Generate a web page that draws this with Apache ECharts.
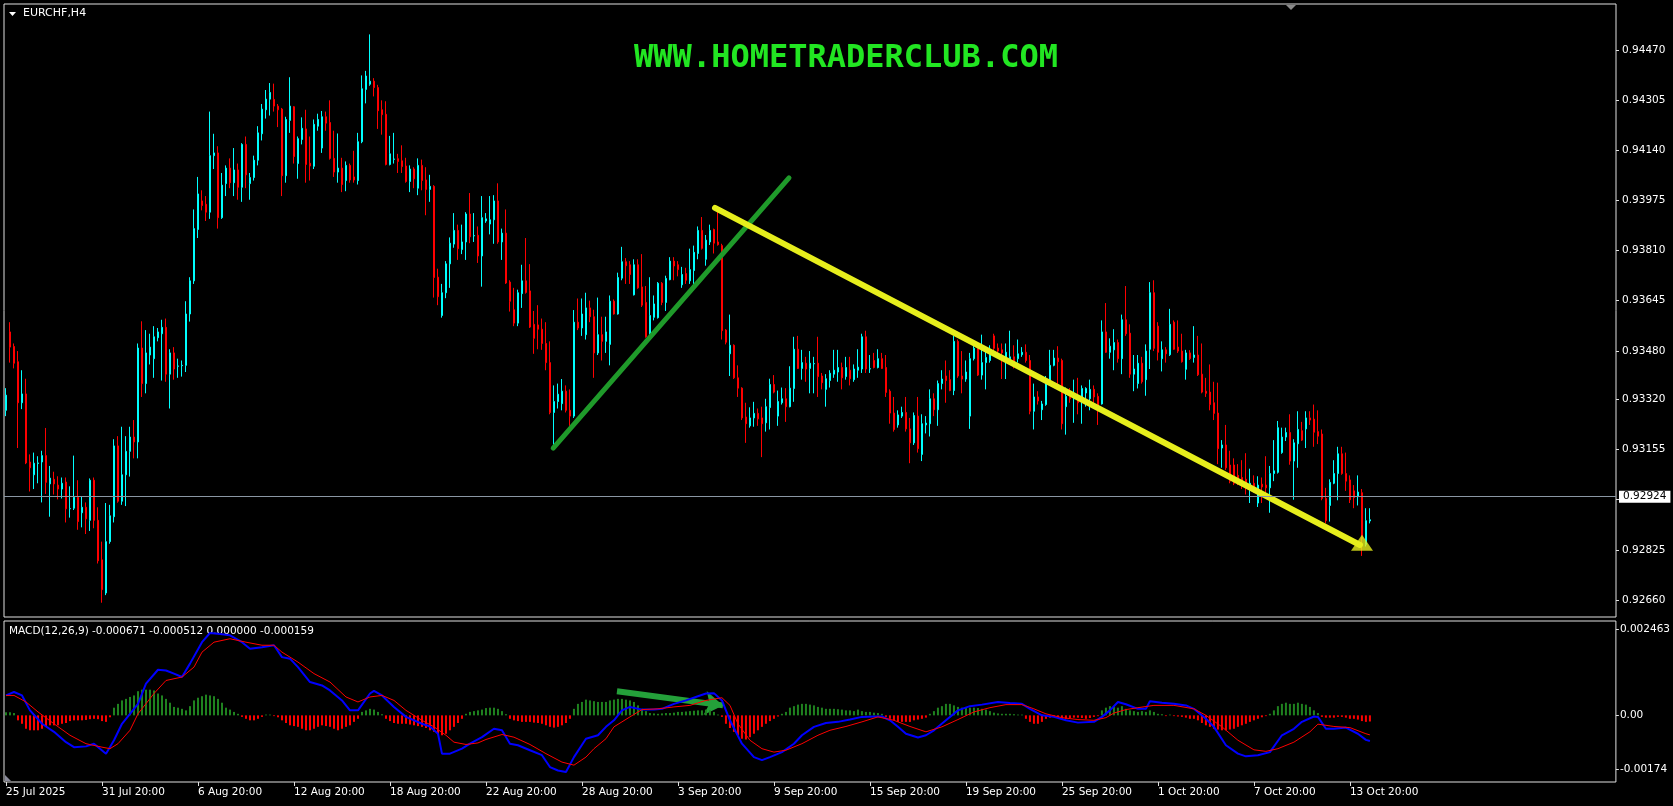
<!DOCTYPE html>
<html><head><meta charset="utf-8">
<script src="https://cdn.jsdelivr.net/npm/echarts@6/dist/echarts.min.js"></script>
<style>html,body{margin:0;padding:0;background:#000;}#c{width:1673px;height:806px;}</style>
</head><body><div id="c"></div>
<script>
const symbolName = 'EURCHF,H4';
const macdTitle = 'MACD(12,26,9) -0.000671 -0.000512 0.000000 -0.000159';
const watermark = 'WWW.HOMETRADERCLUB.COM';
const timeTickLabels = ['25 Jul 2025','31 Jul 20:00','6 Aug 20:00','12 Aug 20:00','18 Aug 20:00','22 Aug 20:00','28 Aug 20:00','3 Sep 20:00','9 Sep 20:00','15 Sep 20:00','19 Sep 20:00','25 Sep 20:00','1 Oct 20:00','7 Oct 20:00','13 Oct 20:00'];
const priceTicks = [0.94470,0.94305,0.94140,0.93975,0.93810,0.93645,0.93480,0.93320,0.93155,0.92990,0.92825,0.92660];
const macdTickLabels = ['0.002463','0.00','-0.00174'];
const currentPrice = 0.92924;

const opens = [0.93284,0.93542,0.93494,0.93444,0.93309,0.93338,0.93114,0.93072,0.93109,0.93114,
0.93135,0.93042,0.93057,0.93038,0.93025,0.93048,0.92960,0.92962,0.92998,0.92947,
0.92965,0.92922,0.93054,0.92922,0.92792,0.92683,0.92852,0.92934,0.93167,0.92985,
0.93072,0.93149,0.93196,0.93180,0.93489,0.93372,0.93466,0.93454,0.93523,0.93536,
0.93557,0.93403,0.93473,0.93429,0.93431,0.93432,0.93601,0.93710,0.93879,0.93973,
0.93962,0.93936,0.94122,0.94131,0.93918,0.94030,0.94081,0.94033,0.94075,0.94018,
0.94159,0.94030,0.94050,0.94107,0.94194,0.94273,0.94308,0.94307,0.94285,0.94275,
0.94056,0.94238,0.94283,0.94096,0.94175,0.94210,0.94097,0.94087,0.94219,0.94147,
0.94250,0.94231,0.94113,0.94068,0.94081,0.94040,0.94090,0.94052,0.94040,0.94168,
0.94340,0.94357,0.94367,0.94346,0.94273,0.94258,0.94093,0.94110,0.94112,0.94105,
0.94088,0.94037,0.94078,0.94015,0.94090,0.94042,0.94011,0.94021,0.93722,0.93596,
0.93671,0.93766,0.93831,0.93876,0.93813,0.93838,0.93930,0.93858,0.93860,0.93792,
0.93907,0.93897,0.93911,0.93973,0.93838,0.93867,0.93706,0.93615,0.93571,0.93668,
0.93710,0.93677,0.93567,0.93565,0.93551,0.93504,0.93441,0.93277,0.93313,0.93306,
0.93347,0.93284,0.93265,0.93574,0.93555,0.93533,0.93621,0.93592,0.93473,0.93533,
0.93511,0.93501,0.93643,0.93601,0.93719,0.93773,0.93763,0.93664,0.93763,0.93690,
0.93639,0.93526,0.93590,0.93589,0.93702,0.93639,0.93714,0.93775,0.93763,0.93697,
0.93734,0.93710,0.93744,0.93800,0.93876,0.93781,0.93838,0.93879,0.93838,0.93826,
0.93548,0.93470,0.93498,0.93391,0.93357,0.93262,0.93233,0.93259,0.93274,0.93259,
0.93243,0.93293,0.93369,0.93265,0.93309,0.93322,0.93296,0.93356,0.93485,0.93422,
0.93439,0.93422,0.93437,0.93439,0.93397,0.93353,0.93382,0.93403,0.93410,0.93425,
0.93395,0.93416,0.93385,0.93416,0.93420,0.93526,0.93420,0.93448,0.93425,0.93454,
0.93425,0.93347,0.93275,0.93236,0.93265,0.93277,0.93223,0.93177,0.93265,0.93139,
0.93236,0.93240,0.93322,0.93286,0.93372,0.93397,0.93385,0.93349,0.93511,0.93397,
0.93387,0.93265,0.93454,0.93488,0.93400,0.93441,0.93448,0.93529,0.93489,0.93483,
0.93458,0.93448,0.93460,0.93454,0.93467,0.93475,0.93448,0.93281,0.93328,0.93286,
0.93303,0.93378,0.93432,0.93456,0.93448,0.93296,0.93330,0.93322,0.93332,0.93322,
0.93341,0.93322,0.93353,0.93330,0.93305,0.93542,0.93475,0.93483,0.93507,0.93454,
0.93582,0.93538,0.93403,0.93372,0.93439,0.93385,0.93485,0.93671,0.93561,0.93454,
0.93483,0.93467,0.93574,0.93492,0.93479,0.93419,0.93473,0.93458,0.93466,0.93403,
0.93347,0.93344,0.93309,0.93275,0.93160,0.93170,0.93104,0.93104,0.93070,0.93063,
0.93057,0.93025,0.93044,0.92979,0.93041,0.93038,0.93029,0.93076,0.93080,0.93145,
0.93196,0.93211,0.93117,0.93174,0.93217,0.93223,0.93259,0.93255,0.93214,0.93206,
0.92994,0.92971,0.93044,0.93076,0.93141,0.93076,0.93055,0.93019,0.93000,0.93013,
0.92843,0.92920];

const highs = [0.93357,0.93574,0.93504,0.93479,0.93416,0.93388,0.93139,0.93145,0.93133,0.93151,
0.93226,0.93101,0.93082,0.93067,0.93063,0.93063,0.93034,0.93135,0.93054,0.93000,
0.92981,0.93060,0.93063,0.92965,0.92852,0.92979,0.92973,0.93189,0.93199,0.93230,
0.93199,0.93230,0.93252,0.93504,0.93577,0.93548,0.93536,0.93561,0.93555,0.93582,
0.93586,0.93485,0.93492,0.93454,0.93448,0.93643,0.93722,0.93945,0.94052,0.94008,
0.93989,0.94267,0.94194,0.94153,0.94065,0.94090,0.94113,0.94147,0.94096,0.94163,
0.94185,0.94065,0.94122,0.94219,0.94292,0.94338,0.94361,0.94359,0.94292,0.94279,
0.94250,0.94380,0.94285,0.94185,0.94248,0.94273,0.94185,0.94241,0.94260,0.94269,
0.94267,0.94304,0.94204,0.94195,0.94115,0.94103,0.94096,0.94138,0.94197,0.94386,
0.94401,0.94521,0.94377,0.94355,0.94304,0.94301,0.94187,0.94197,0.94128,0.94156,
0.94115,0.94090,0.94084,0.94113,0.94109,0.94084,0.94059,0.94025,0.93750,0.93700,
0.93775,0.93853,0.93933,0.93895,0.93895,0.93936,0.93999,0.93933,0.93889,0.93989,
0.93933,0.93989,0.93992,0.94031,0.93882,0.93945,0.93712,0.93687,0.93681,0.93763,
0.93851,0.93765,0.93611,0.93630,0.93586,0.93574,0.93511,0.93366,0.93372,0.93387,
0.93366,0.93353,0.93614,0.93652,0.93652,0.93671,0.93645,0.93615,0.93655,0.93592,
0.93592,0.93662,0.93649,0.93737,0.93822,0.93785,0.93775,0.93781,0.93781,0.93798,
0.93693,0.93722,0.93662,0.93706,0.93706,0.93727,0.93788,0.93788,0.93775,0.93756,
0.93753,0.93816,0.93826,0.93889,0.93920,0.93861,0.93895,0.93882,0.93939,0.93832,
0.93551,0.93599,0.93501,0.93432,0.93360,0.93309,0.93294,0.93312,0.93290,0.93296,
0.93322,0.93388,0.93400,0.93349,0.93359,0.93357,0.93429,0.93526,0.93529,0.93483,
0.93460,0.93479,0.93460,0.93526,0.93407,0.93403,0.93416,0.93483,0.93483,0.93441,
0.93460,0.93460,0.93435,0.93485,0.93536,0.93546,0.93466,0.93473,0.93485,0.93473,
0.93466,0.93353,0.93328,0.93284,0.93296,0.93328,0.93259,0.93277,0.93328,0.93271,
0.93265,0.93353,0.93340,0.93382,0.93416,0.93448,0.93416,0.93529,0.93517,0.93479,
0.93448,0.93473,0.93501,0.93492,0.93533,0.93492,0.93498,0.93536,0.93504,0.93504,
0.93504,0.93546,0.93498,0.93517,0.93492,0.93501,0.93466,0.93372,0.93347,0.93315,
0.93397,0.93483,0.93483,0.93495,0.93454,0.93359,0.93357,0.93385,0.93391,0.93366,
0.93360,0.93385,0.93366,0.93340,0.93580,0.93637,0.93521,0.93551,0.93517,0.93599,
0.93693,0.93567,0.93466,0.93466,0.93460,0.93501,0.93706,0.93712,0.93574,0.93511,
0.93492,0.93618,0.93580,0.93580,0.93536,0.93483,0.93482,0.93561,0.93529,0.93504,
0.93391,0.93435,0.93378,0.93375,0.93186,0.93236,0.93151,0.93126,0.93107,0.93120,
0.93143,0.93092,0.93070,0.93067,0.93063,0.93133,0.93101,0.93186,0.93249,0.93227,
0.93227,0.93271,0.93189,0.93281,0.93246,0.93281,0.93281,0.93303,0.93284,0.93221,
0.93029,0.93057,0.93120,0.93164,0.93164,0.93145,0.93070,0.93038,0.93070,0.93025,
0.92962,0.92962];

const lows = [0.93265,0.93441,0.93422,0.93160,0.93288,0.93107,0.93017,0.93025,0.93044,0.92981,
0.93009,0.92934,0.93007,0.92991,0.92994,0.92915,0.92931,0.92956,0.92891,0.92899,
0.92877,0.92887,0.92896,0.92780,0.92651,0.92676,0.92845,0.92915,0.92980,0.92973,
0.92969,0.93066,0.93126,0.93126,0.93328,0.93340,0.93435,0.93391,0.93511,0.93382,
0.93378,0.93290,0.93385,0.93391,0.93395,0.93410,0.93576,0.93700,0.93851,0.93942,
0.93907,0.93914,0.94078,0.93882,0.93914,0.93989,0.94015,0.93989,0.93977,0.93970,
0.94015,0.93977,0.94040,0.94090,0.94172,0.94244,0.94254,0.94267,0.94216,0.93989,
0.94033,0.94197,0.94096,0.94046,0.94159,0.94033,0.94040,0.94078,0.94204,0.94131,
0.94204,0.94109,0.94052,0.94033,0.94002,0.94005,0.94033,0.94033,0.94027,0.94163,
0.94294,0.94352,0.94317,0.94210,0.94191,0.94090,0.94090,0.94096,0.94065,0.94065,
0.94033,0.94002,0.94015,0.93992,0.94008,0.93926,0.93970,0.93655,0.93630,0.93589,
0.93653,0.93687,0.93819,0.93779,0.93798,0.93779,0.93834,0.93838,0.93769,0.93691,
0.93901,0.93863,0.93832,0.93832,0.93779,0.93700,0.93609,0.93561,0.93561,0.93621,
0.93668,0.93555,0.93470,0.93485,0.93483,0.93416,0.93271,0.93164,0.93290,0.93284,
0.93277,0.93233,0.93259,0.93548,0.93529,0.93517,0.93574,0.93391,0.93466,0.93448,
0.93473,0.93432,0.93599,0.93599,0.93712,0.93700,0.93700,0.93662,0.93684,0.93624,
0.93523,0.93523,0.93580,0.93586,0.93630,0.93611,0.93712,0.93712,0.93725,0.93687,
0.93700,0.93700,0.93693,0.93781,0.93813,0.93760,0.93828,0.93800,0.93826,0.93517,
0.93501,0.93397,0.93387,0.93328,0.93252,0.93177,0.93227,0.93230,0.93233,0.93130,
0.93214,0.93221,0.93340,0.93233,0.93303,0.93246,0.93294,0.93312,0.93420,0.93385,
0.93378,0.93340,0.93340,0.93328,0.93353,0.93296,0.93359,0.93391,0.93378,0.93353,
0.93385,0.93366,0.93378,0.93391,0.93407,0.93407,0.93407,0.93422,0.93422,0.93420,
0.93328,0.93240,0.93214,0.93227,0.93259,0.93214,0.93110,0.93170,0.93145,0.93117,
0.93208,0.93198,0.93265,0.93233,0.93353,0.93309,0.93347,0.93334,0.93391,0.93340,
0.93378,0.93223,0.93448,0.93397,0.93385,0.93353,0.93441,0.93479,0.93473,0.93387,
0.93387,0.93441,0.93422,0.93441,0.93460,0.93441,0.93271,0.93221,0.93303,0.93252,
0.93299,0.93372,0.93429,0.93353,0.93221,0.93204,0.93309,0.93243,0.93271,0.93240,
0.93296,0.93284,0.93309,0.93236,0.93303,0.93473,0.93454,0.93416,0.93441,0.93403,
0.93529,0.93391,0.93347,0.93356,0.93372,0.93332,0.93420,0.93479,0.93448,0.93412,
0.93441,0.93463,0.93483,0.93473,0.93441,0.93385,0.93450,0.93441,0.93397,0.93340,
0.93328,0.93284,0.93252,0.93107,0.93095,0.93088,0.93044,0.93038,0.93038,0.93025,
0.93007,0.92979,0.93013,0.92966,0.92979,0.93000,0.92947,0.93051,0.93076,0.93141,
0.93183,0.93105,0.92990,0.93095,0.93183,0.93160,0.93236,0.93164,0.93173,0.92988,
0.92912,0.92918,0.93041,0.92988,0.93072,0.93019,0.92979,0.92962,0.92971,0.92805,
0.92836,0.92912];

const closes = [0.93334,0.93492,0.93439,0.93309,0.93338,0.93111,0.93095,0.93110,0.93111,0.93135,
0.93047,0.93061,0.93042,0.93025,0.93044,0.92960,0.92961,0.92998,0.92918,0.92965,
0.92927,0.93054,0.92922,0.92789,0.92694,0.92852,0.92937,0.93167,0.92985,0.93072,
0.93149,0.93196,0.93180,0.93489,0.93372,0.93473,0.93492,0.93526,0.93542,0.93557,
0.93403,0.93473,0.93420,0.93430,0.93432,0.93601,0.93710,0.93882,0.93996,0.93958,
0.93936,0.94122,0.94131,0.93918,0.94025,0.94081,0.94033,0.94075,0.94018,0.94159,
0.94059,0.94050,0.94107,0.94197,0.94275,0.94308,0.94330,0.94285,0.94273,0.94056,
0.94241,0.94285,0.94119,0.94178,0.94212,0.94093,0.94088,0.94225,0.94241,0.94250,
0.94229,0.94113,0.94068,0.94081,0.94027,0.94090,0.94042,0.94042,0.94168,0.94342,
0.94384,0.94367,0.94346,0.94270,0.94257,0.94093,0.94128,0.94111,0.94103,0.94086,
0.94037,0.94078,0.94046,0.94090,0.94040,0.94011,0.94021,0.93721,0.93658,0.93671,
0.93766,0.93834,0.93876,0.93816,0.93838,0.93930,0.93855,0.93859,0.93792,0.93918,
0.93914,0.93911,0.93973,0.93838,0.93867,0.93703,0.93643,0.93571,0.93671,0.93710,
0.93672,0.93558,0.93521,0.93551,0.93504,0.93441,0.93277,0.93313,0.93337,0.93347,
0.93284,0.93265,0.93574,0.93555,0.93601,0.93621,0.93592,0.93473,0.93533,0.93511,
0.93542,0.93643,0.93601,0.93721,0.93773,0.93760,0.93731,0.93763,0.93687,0.93630,
0.93526,0.93596,0.93634,0.93702,0.93639,0.93718,0.93775,0.93759,0.93747,0.93731,
0.93712,0.93747,0.93804,0.93876,0.93817,0.93844,0.93876,0.93834,0.93829,0.93546,
0.93508,0.93498,0.93391,0.93357,0.93259,0.93240,0.93259,0.93274,0.93256,0.93240,
0.93296,0.93369,0.93344,0.93313,0.93322,0.93296,0.93357,0.93485,0.93422,0.93441,
0.93420,0.93439,0.93438,0.93395,0.93375,0.93388,0.93406,0.93416,0.93425,0.93391,
0.93425,0.93388,0.93420,0.93426,0.93526,0.93420,0.93421,0.93425,0.93454,0.93422,
0.93343,0.93275,0.93221,0.93269,0.93277,0.93223,0.93177,0.93267,0.93158,0.93240,
0.93242,0.93322,0.93286,0.93372,0.93387,0.93382,0.93349,0.93511,0.93397,0.93387,
0.93410,0.93454,0.93488,0.93400,0.93441,0.93458,0.93473,0.93488,0.93479,0.93473,
0.93475,0.93460,0.93441,0.93470,0.93475,0.93448,0.93281,0.93328,0.93315,0.93305,
0.93378,0.93432,0.93456,0.93444,0.93240,0.93330,0.93322,0.93334,0.93309,0.93356,
0.93356,0.93353,0.93328,0.93294,0.93542,0.93475,0.93495,0.93507,0.93454,0.93582,
0.93536,0.93403,0.93420,0.93439,0.93378,0.93479,0.93671,0.93488,0.93475,0.93483,
0.93470,0.93567,0.93485,0.93479,0.93444,0.93473,0.93454,0.93466,0.93401,0.93344,
0.93340,0.93303,0.93274,0.93158,0.93170,0.93095,0.93051,0.93044,0.93057,0.93044,
0.93038,0.93044,0.93032,0.93038,0.93032,0.93029,0.93076,0.93085,0.93227,0.93196,
0.93211,0.93117,0.93177,0.93221,0.93186,0.93259,0.93252,0.93212,0.93199,0.92994,
0.92921,0.93047,0.93076,0.93141,0.93076,0.93051,0.92990,0.92997,0.93015,0.92862,
0.92921,0.92924];

const macdHist = [0.00008,0.00008,0.00006,-0.00013,-0.00022,-0.00035,-0.00039,-0.00039,-0.00039,-0.00035,
-0.00030,-0.00026,-0.00026,-0.00026,-0.00022,-0.00020,-0.00015,-0.00013,-0.00013,-0.00013,
-0.00012,-0.00010,-0.00009,-0.00010,-0.00015,-0.00017,-0.00005,0.00020,0.00030,0.00039,
0.00043,0.00048,0.00052,0.00063,0.00067,0.00067,0.00067,0.00065,0.00057,0.00052,
0.00043,0.00033,0.00022,0.00020,0.00017,0.00013,0.00024,0.00039,0.00046,0.00050,
0.00054,0.00052,0.00050,0.00043,0.00033,0.00020,0.00015,0.00009,0.00004,-0.00004,
-0.00009,-0.00013,-0.00013,-0.00009,-0.00004,0.00002,0.00002,-0.00002,-0.00005,-0.00013,
-0.00020,-0.00026,-0.00028,-0.00030,-0.00035,-0.00039,-0.00039,-0.00035,-0.00030,-0.00026,
-0.00028,-0.00030,-0.00035,-0.00039,-0.00035,-0.00030,-0.00026,-0.00017,-0.00009,0.00009,
0.00013,0.00017,0.00015,0.00009,0.00003,-0.00009,-0.00015,-0.00020,-0.00022,-0.00022,
-0.00022,-0.00024,-0.00026,-0.00028,-0.00030,-0.00033,-0.00039,-0.00043,-0.00050,-0.00052,
-0.00048,-0.00039,-0.00030,-0.00020,-0.00009,0.00004,0.00009,0.00011,0.00013,0.00015,
0.00019,0.00020,0.00020,0.00017,0.00011,0.00003,-0.00009,-0.00013,-0.00015,-0.00017,
-0.00017,-0.00017,-0.00019,-0.00020,-0.00022,-0.00026,-0.00030,-0.00032,-0.00030,-0.00026,
-0.00020,-0.00009,0.00017,0.00030,0.00035,0.00041,0.00039,0.00037,0.00035,0.00035,
0.00035,0.00039,0.00041,0.00043,0.00043,0.00041,0.00039,0.00035,0.00026,0.00017,
0.00011,0.00006,0.00005,0.00004,0.00005,0.00006,0.00006,0.00007,0.00009,0.00009,
0.00010,0.00011,0.00012,0.00013,0.00013,0.00015,0.00013,0.00009,0.00002,-0.00004,
-0.00022,-0.00033,-0.00043,-0.00052,-0.00061,-0.00063,-0.00057,-0.00048,-0.00039,-0.00030,
-0.00022,-0.00015,-0.00009,-0.00003,0.00004,0.00009,0.00020,0.00024,0.00028,0.00030,
0.00030,0.00028,0.00026,0.00022,0.00020,0.00017,0.00017,0.00017,0.00016,0.00015,
0.00013,0.00013,0.00011,0.00015,0.00011,0.00009,0.00009,0.00007,0.00006,0.00004,
-0.00004,-0.00009,-0.00013,-0.00017,-0.00017,-0.00017,-0.00017,-0.00013,-0.00011,-0.00009,
-0.00006,0.00004,0.00011,0.00020,0.00024,0.00030,0.00030,0.00026,0.00022,0.00020,
0.00020,0.00020,0.00020,0.00019,0.00017,0.00015,0.00011,0.00007,0.00005,0.00004,
0.00004,0.00004,0.00003,0.00002,0.00002,-0.00009,-0.00017,-0.00022,-0.00022,-0.00017,
-0.00009,-0.00006,-0.00004,-0.00006,-0.00009,-0.00009,-0.00007,-0.00006,-0.00006,-0.00007,
-0.00009,-0.00007,-0.00004,-0.00002,0.00013,0.00020,0.00024,0.00022,0.00020,0.00024,
0.00017,0.00013,0.00011,0.00009,0.00011,0.00009,0.00013,0.00009,0.00004,0.00003,
-0.00002,0.00002,-0.00002,-0.00003,-0.00004,-0.00006,-0.00009,-0.00009,-0.00013,-0.00020,
-0.00026,-0.00030,-0.00035,-0.00037,-0.00039,-0.00039,-0.00037,-0.00035,-0.00030,-0.00026,
-0.00022,-0.00017,-0.00013,-0.00009,-0.00005,-0.00002,0.00004,0.00013,0.00024,0.00030,
0.00033,0.00030,0.00030,0.00033,0.00030,0.00028,0.00022,0.00013,0.00006,-0.00004,
-0.00006,-0.00006,-0.00006,-0.00004,-0.00004,-0.00006,-0.00009,-0.00009,-0.00011,-0.00015,
-0.00017,-0.00016];

// MACD main line (blue), read as [bar index, value]
const macdMain = [[0,0.00052],[2,0.00061],[4,0.00052],[6,0.00013],[9,-0.00022],[12,-0.00043],[15,-0.00070],[17,-0.00083],[20,-0.00081],[22,-0.00074],[25,-0.00100],[27,-0.00065],[29,-0.00022],[33,0.00030],[35,0.00083],[38,0.00119],[40,0.00117],[42,0.00109],[44,0.00100],[46,0.00135],[49,0.00191],[51,0.00215],[53,0.00213],[56,0.00209],[59,0.00191],[61,0.00174],[64,0.00178],[67,0.00183],[69,0.00152],[71,0.00148],[73,0.00126],[76,0.00087],[79,0.00078],[81,0.00065],[84,0.00039],[86,0.00013],[88,0.00013],[91,0.00057],[92,0.00064],[94,0.00052],[97,0.00022],[100,-0.00004],[104,-0.00022],[106,-0.00029],[108,-0.00048],[109,-0.00100],[111,-0.00100],[114,-0.00087],[116,-0.00074],[119,-0.00057],[122,-0.00035],[124,-0.00039],[126,-0.00074],[128,-0.00078],[131,-0.00091],[134,-0.00104],[136,-0.00135],[138,-0.00144],[140,-0.00148],[142,-0.00109],[145,-0.00061],[148,-0.00052],[150,-0.00030],[152,-0.00013],[154,0.00013],[156,0.00022],[159,0.00015],[162,0.00015],[164,0.00017],[167,0.00030],[170,0.00039],[173,0.00050],[175,0.00057],[177,0.00058],[179,0.00039],[181,-0.00013],[184,-0.00074],[187,-0.00109],[189,-0.00117],[191,-0.00109],[194,-0.00096],[197,-0.00074],[199,-0.00052],[202,-0.00030],[205,-0.00020],[208,-0.00017],[211,-0.00011],[214,-0.00004],[217,-0.00003],[219,-0.00003],[221,-0.00013],[223,-0.00030],[225,-0.00048],[228,-0.00058],[230,-0.00052],[232,-0.00039],[235,-0.00013],[238,0.00013],[241,0.00024],[244,0.00028],[248,0.00035],[251,0.00032],[254,0.00030],[256,0.00017],[259,0.00000],[262,-0.00004],[265,-0.00013],[268,-0.00019],[272,-0.00017],[274,-0.00004],[276,0.00013],[278,0.00035],[280,0.00029],[283,0.00017],[285,0.00017],[286,0.00037],[289,0.00033],[292,0.00030],[295,0.00026],[297,0.00017],[300,-0.00009],[302,-0.00030],[305,-0.00078],[308,-0.00100],[310,-0.00107],[313,-0.00104],[316,-0.00096],[319,-0.00052],[322,-0.00035],[324,-0.00017],[327,-0.00003],[328,-0.00004],[330,-0.00035],[332,-0.00035],[335,-0.00032],[338,-0.00048],[340,-0.00064],[341,-0.00067]];

// MACD signal line (red)
const macdSignal = [[0,0.00052],[2,0.00052],[5,0.00035],[8,0.00009],[12,-0.00022],[16,-0.00052],[20,-0.00074],[24,-0.00083],[26,-0.00087],[28,-0.00074],[31,-0.00039],[33,0.00004],[37,0.00057],[40,0.00091],[44,0.00100],[47,0.00126],[49,0.00165],[52,0.00191],[56,0.00200],[60,0.00191],[64,0.00183],[67,0.00183],[69,0.00165],[73,0.00139],[77,0.00109],[81,0.00087],[85,0.00048],[88,0.00035],[91,0.00048],[94,0.00052],[97,0.00039],[100,0.00013],[104,-0.00013],[107,-0.00030],[110,-0.00052],[112,-0.00070],[115,-0.00076],[118,-0.00072],[120,-0.00063],[124,-0.00050],[127,-0.00057],[131,-0.00076],[135,-0.00100],[139,-0.00122],[142,-0.00130],[145,-0.00109],[147,-0.00087],[150,-0.00061],[152,-0.00030],[156,-0.00004],[159,0.00015],[163,0.00017],[167,0.00022],[171,0.00026],[175,0.00039],[179,0.00046],[181,0.00026],[183,-0.00022],[186,-0.00065],[189,-0.00087],[192,-0.00096],[195,-0.00091],[199,-0.00074],[203,-0.00052],[206,-0.00039],[210,-0.00029],[214,-0.00017],[218,-0.00004],[222,-0.00013],[226,-0.00029],[230,-0.00043],[234,-0.00030],[238,-0.00011],[242,0.00009],[246,0.00020],[250,0.00028],[254,0.00028],[257,0.00017],[260,0.00004],[264,-0.00006],[268,-0.00011],[272,-0.00013],[275,-0.00006],[277,0.00006],[280,0.00015],[283,0.00020],[287,0.00026],[292,0.00026],[297,0.00017],[300,0.00000],[304,-0.00030],[308,-0.00065],[312,-0.00090],[315,-0.00094],[318,-0.00087],[322,-0.00070],[326,-0.00043],[328,-0.00023],[332,-0.00029],[336,-0.00032],[340,-0.00048],[341,-0.00051]];

// drawn objects: [bar index, price/value]
const greenTrend = [[136.8,0.93160],[195.75,0.94049]];
const yellowTrend = [[177.25,0.93950],[338.5,0.92841]];
const yellowArrowHead = [[339,0.92848]];
const macdArrow = [[152.75,0.00063],[179.25,0.00026]];

const SLOTS = 403;
const cats = Array.from({length: SLOTS}, (_, i) => String(i));
const candles = opens.map((o, i) => [o, closes[i], lows[i], highs[i]]);
const FONT = 'DejaVu Sans';
const isTimeTick = (i) => i % 24 === 0 && i / 24 < timeTickLabels.length;

const chart = echarts.init(document.getElementById('c'), null, {renderer: 'canvas'});
chart.setOption({
  backgroundColor: '#000000',
  animation: false,
  grid: [
    {left: 4, top: 4, width: 1612, height: 613, show: true, borderColor: '#e0e0e0', borderWidth: 1, backgroundColor: 'transparent'},
    {left: 4, top: 621, width: 1612, height: 161, show: true, borderColor: '#e0e0e0', borderWidth: 1, backgroundColor: 'transparent'}
  ],
  xAxis: [
    {type: 'category', gridIndex: 0, data: cats, boundaryGap: true, axisLine: {show: false, onZero: false}, axisTick: {show: false}, axisLabel: {show: false}, splitLine: {show: false}},
    {type: 'category', gridIndex: 1, data: cats, boundaryGap: true, position: 'bottom', axisLine: {show: false, onZero: false},
      axisTick: {show: true, alignWithLabel: true, length: 4, interval: isTimeTick, lineStyle: {color: '#e0e0e0'}},
      axisLabel: {show: true, interval: isTimeTick, formatter: (v, i) => timeTickLabels[Math.round(i / 24)] || '', align: 'left', color: '#ffffff', fontFamily: FONT, fontSize: 10.5, margin: 5},
      splitLine: {show: false}},
    {type: 'value', gridIndex: 0, min: -0.5, max: SLOTS - 0.5, show: false, axisLine: {onZero: false}},
    {type: 'value', gridIndex: 1, min: -0.5, max: SLOTS - 0.5, show: false, axisLine: {onZero: false}}
  ],
  yAxis: [
    {type: 'value', gridIndex: 0, position: 'right', min: 0.92604, max: 0.94621, splitLine: {show: false}, axisLine: {show: false, onZero: false},
      axisTick: {show: true, length: 3, customValues: priceTicks, lineStyle: {color: '#e0e0e0'}},
      axisLabel: {customValues: priceTicks, formatter: (v) => v.toFixed(5), color: '#ffffff', fontFamily: FONT, fontSize: 10.5, margin: 6}},
    {type: 'value', gridIndex: 1, position: 'right', min: -0.00174, max: 0.002463, splitLine: {show: false}, axisLine: {show: false, onZero: false},
      axisTick: {show: true, length: 3, customValues: [0.00224, 0, -0.00141], lineStyle: {color: '#e0e0e0'}},
      axisLabel: {customValues: [0.00224, 0, -0.00141], formatter: (v) => v > 0.001 ? macdTickLabels[0] : (v < -0.001 ? macdTickLabels[2] : macdTickLabels[1]), color: '#ffffff', fontFamily: FONT, fontSize: 10.5, margin: 4}}
  ],
  series: [
    {type: 'candlestick', xAxisIndex: 0, yAxisIndex: 0, data: candles, barWidth: 2,
      itemStyle: {color: '#00ffff', color0: '#ff0000', borderColor: '#00ffff', borderColor0: '#ff0000', borderWidth: 1},
      markLine: {silent: true, symbol: 'none', animation: false, data: [{yAxis: currentPrice}],
        lineStyle: {color: '#8a96a3', width: 1, type: 'solid'},
        label: {show: true, position: 'end', formatter: () => currentPrice.toFixed(5), color: '#000', backgroundColor: '#ffffff', padding: [1, 4, 0, 4], fontFamily: FONT, fontSize: 10.5, distance: 3}}},
    {type: 'line', xAxisIndex: 2, yAxisIndex: 0, data: greenTrend, symbol: 'none', silent: true,
      lineStyle: {color: '#1f9a2a', width: 5, cap: 'round'}},
    {type: 'line', xAxisIndex: 2, yAxisIndex: 0, data: yellowTrend, symbol: 'none', silent: true,
      lineStyle: {color: '#e6ee1c', width: 6, cap: 'round'}},
    {type: 'scatter', xAxisIndex: 2, yAxisIndex: 0, data: yellowArrowHead, symbol: 'triangle', symbolSize: [22, 16], silent: true,
      itemStyle: {color: '#e6ee1c'}},
    {type: 'bar', xAxisIndex: 1, yAxisIndex: 1, data: macdHist, barWidth: 2, silent: true,
      itemStyle: {color: (p) => p.value >= 0 ? '#1f821f' : '#ff0000'}},
    {type: 'line', xAxisIndex: 3, yAxisIndex: 1, data: macdMain, symbol: 'none', silent: true,
      lineStyle: {color: '#0000ff', width: 2}},
    {type: 'line', xAxisIndex: 3, yAxisIndex: 1, data: macdSignal, symbol: 'none', silent: true,
      lineStyle: {color: '#ff0000', width: 1}},
    {type: 'lines', coordinateSystem: 'cartesian2d', xAxisIndex: 3, yAxisIndex: 1, silent: true,
      symbol: ['none', 'arrow'], symbolSize: 18,
      lineStyle: {color: '#24a03a', width: 6, opacity: 1},
      data: [{coords: macdArrow}]}
  ],
  graphic: [
    {type: 'polygon', shape: {points: [[9, 12], [16, 12], [12.5, 16]]}, style: {fill: '#ffffff'}, silent: true},
    {type: 'text', left: 23, top: 8, style: {text: symbolName, fill: '#ffffff', font: '11px "DejaVu Sans"'}, silent: true},
    {type: 'text', left: 9, top: 626, style: {text: macdTitle, fill: '#ffffff', font: '10.5px "DejaVu Sans"'}, silent: true},
    {type: 'text', x: 846, y: 59, style: {text: watermark, fill: '#22e622', font: 'bold 32px "DejaVu Sans Mono"', align: 'center', verticalAlign: 'middle', shadowBlur: 4, shadowColor: '#0a6a0a'}, silent: true},
    {type: 'polygon', shape: {points: [[1286, 5], [1296, 5], [1291, 10]]}, style: {fill: '#8a8a8a'}, silent: true},
    {type: 'polygon', shape: {points: [[5, 775], [5, 781], [11, 781]]}, style: {fill: '#8a8a9a'}, silent: true}
  ]
});
</script>
</body></html>
